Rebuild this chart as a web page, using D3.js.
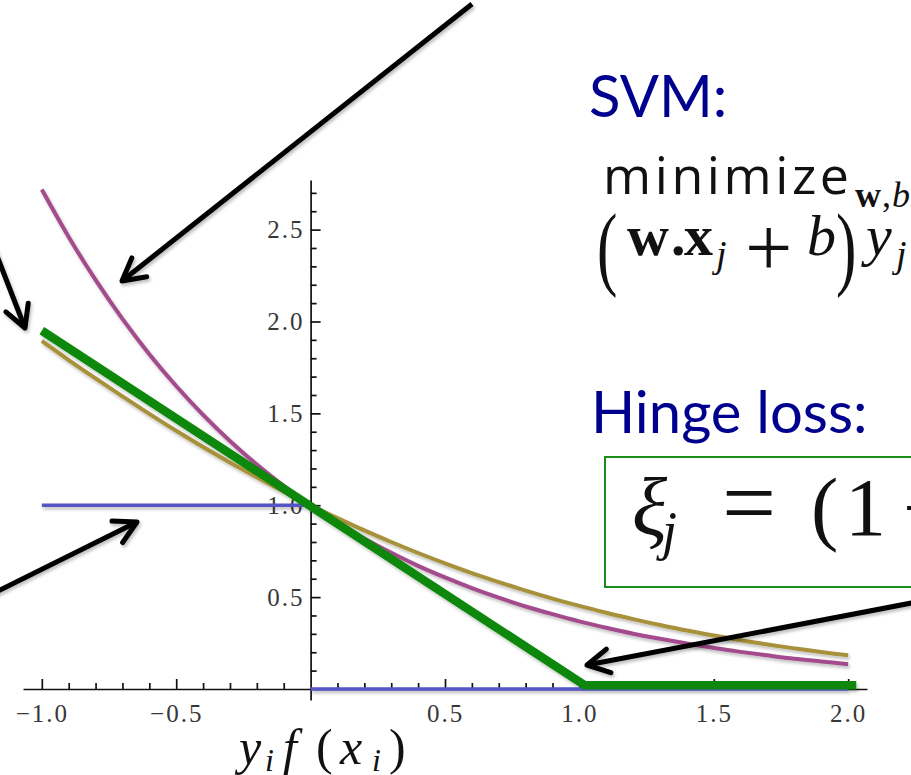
<!DOCTYPE html>
<html>
<head>
<meta charset="utf-8">
<script src="https://cdn.jsdelivr.net/npm/d3@7/dist/d3.min.js"></script>
<style>
  body { margin: 0; background: #fff; }
  svg { display: block; }
</style>
</head>
<body>
<div id="chart"></div>
<script>
// values
var xs = [-1.0, -0.9, -0.8, -0.7, -0.6, -0.5, -0.4, -0.3, -0.2, -0.1, 0.0,
           0.1,  0.2,  0.3,  0.4,  0.5,  0.6,  0.7,  0.8,  0.9,  1.0,
           1.1,  1.2,  1.3,  1.4,  1.5,  1.6,  1.7,  1.8,  1.9,  2.0];
// purple curve (exponential loss)
var expLoss = [2.718, 2.460, 2.226, 2.014, 1.822, 1.649, 1.492, 1.350, 1.221, 1.105, 1.000,
               0.905, 0.819, 0.741, 0.670, 0.607, 0.549, 0.497, 0.449, 0.407, 0.368,
               0.333, 0.301, 0.273, 0.247, 0.223, 0.202, 0.183, 0.165, 0.150, 0.135];
// olive curve (logistic loss)
var logLoss = [1.894, 1.790, 1.690, 1.592, 1.497, 1.405, 1.317, 1.233, 1.152, 1.074, 1.000,
               0.930, 0.863, 0.800, 0.740, 0.684, 0.631, 0.582, 0.535, 0.492, 0.452,
               0.415, 0.380, 0.348, 0.318, 0.291, 0.265, 0.242, 0.221, 0.201, 0.183];
// blue 0/1 loss (null = break)
var zeroOneX = [-1.0, 0.0, 0.0, 0.0, 2.0];
var zeroOneY = [1.0, 1.0, null, 0.0, 0.0];
// green hinge loss
var hingeX = [-1.0, 1.02, 2.03];
var hingeY = [1.95, 0.02, 0.02];

var xTickValues = [-1.0, -0.5, 0.5, 1.0, 1.5, 2.0];
var xTickLabels = ["\u22121.0", "\u22120.5", "0.5", "1.0", "1.5", "2.0"];
var yTickValues = [0.5, 1.0, 1.5, 2.0, 2.5];
var yTickLabels = ["0.5", "1.0", "1.5", "2.0", "2.5"];

var width = 911, height = 775;

var svg = d3.select("#chart").append("svg")
  .attr("width", width)
  .attr("height", height);

svg.append("rect").attr("width", width).attr("height", height).attr("fill", "#fff");

var defs = svg.append("defs");
var shadow = defs.append("filter").attr("id", "shadow")
  .attr("x", "-20%").attr("y", "-20%").attr("width", "140%").attr("height", "140%");
shadow.append("feDropShadow")
  .attr("dx", 1.5).attr("dy", 2.5).attr("stdDeviation", 1.5)
  .attr("flood-color", "#000").attr("flood-opacity", 0.25);

defs.append("marker")
  .attr("id", "head")
  .attr("markerUnits", "userSpaceOnUse")
  .attr("viewBox", "-32 -18 36 36")
  .attr("refX", 0).attr("refY", 0)
  .attr("markerWidth", 36).attr("markerHeight", 36)
  .attr("orient", "auto")
  .append("path")
  .attr("d", "M-22,-12L0,0L-22,12")
  .attr("fill", "none")
  .attr("stroke", "#000")
  .attr("stroke-width", 5)
  .attr("stroke-linecap", "round")
  .attr("stroke-linejoin", "round");

// scales
var x = d3.scaleLinear().domain([-1.07, 2.07]).range([23, 867]);
var y = d3.scaleLinear().domain([-0.06, 2.77]).range([700, 180]);

// axes
var xMinor = d3.range(-10, 21).map(function(k) { return k / 10; })
  .filter(function(v) { return v !== 0 && Math.abs(v * 2 - Math.round(v * 2)) > 1e-9; });
var yMinor = d3.range(1, 28).map(function(k) { return k / 10; })
  .filter(function(v) { return Math.abs(v * 2 - Math.round(v * 2)) > 1e-9; });

var axes = svg.append("g").attr("class", "axes");

axes.append("g")
  .attr("transform", "translate(0," + y(0) + ")")
  .call(d3.axisBottom(x).tickValues(xMinor).tickSizeInner(-6).tickSizeOuter(0).tickFormat(""))
  .call(function(g) { g.select(".domain").remove(); });

axes.append("g")
  .attr("transform", "translate(" + x(0) + ",0)")
  .call(d3.axisLeft(y).tickValues(yMinor).tickSizeInner(-6).tickSizeOuter(0).tickFormat(""))
  .call(function(g) { g.select(".domain").remove(); });

axes.append("g")
  .attr("transform", "translate(0," + y(0) + ")")
  .call(d3.axisBottom(x).tickValues(xTickValues).tickSizeInner(-10).tickSizeOuter(0)
        .tickPadding(15).tickFormat(function(d, i) { return xTickLabels[i]; }));

axes.append("g")
  .attr("transform", "translate(" + x(0) + ",0)")
  .call(d3.axisLeft(y).tickValues(yTickValues).tickSizeInner(-10).tickSizeOuter(0)
        .tickPadding(6).tickFormat(function(d, i) { return yTickLabels[i]; }));

axes.selectAll("line, path").attr("stroke", "#111").attr("stroke-width", 1.7);
axes.selectAll("text")
  .attr("font-family", "'Liberation Serif', 'Times New Roman', serif")
  .attr("font-size", 25)
  .attr("letter-spacing", "2px")
  .attr("fill", "#383838");

// curves
var line = d3.line()
  .defined(function(d) { return d[1] != null; })
  .x(function(d) { return x(d[0]); })
  .y(function(d) { return y(d[1]); });

var smooth = d3.line()
  .curve(d3.curveCatmullRom)
  .x(function(d) { return x(d[0]); })
  .y(function(d) { return y(d[1]); });

var curves = svg.append("g").attr("filter", "url(#shadow)");

curves.append("path")
  .datum(d3.zip(zeroOneX, zeroOneY))
  .attr("d", line)
  .attr("fill", "none")
  .attr("stroke", "#5555c6")
  .attr("stroke-width", 3.5);

curves.append("path")
  .datum(d3.zip(xs, expLoss))
  .attr("d", smooth)
  .attr("fill", "none")
  .attr("stroke", "#a34c8c")
  .attr("stroke-width", 4);

curves.append("path")
  .datum(d3.zip(xs, logLoss))
  .attr("d", smooth)
  .attr("fill", "none")
  .attr("stroke", "#a8913a")
  .attr("stroke-width", 4);

curves.append("path")
  .datum(d3.zip(hingeX, hingeY))
  .attr("d", line)
  .attr("fill", "none")
  .attr("stroke", "#078807")
  .attr("stroke-width", 8.5)
  .attr("stroke-linejoin", "miter");

// arrows
var arrows = [
  [[472, 4], [122, 281]],
  [[-8, 243], [25, 328]],
  [[-10, 595], [137, 522]],
  [[922, 601], [587, 665]]
];
svg.append("g").attr("filter", "url(#shadow)")
  .selectAll("line")
  .data(arrows)
  .enter().append("line")
  .attr("x1", function(d) { return d[0][0]; })
  .attr("y1", function(d) { return d[0][1]; })
  .attr("x2", function(d) { return d[1][0]; })
  .attr("y2", function(d) { return d[1][1]; })
  .attr("stroke", "#000")
  .attr("stroke-width", 5)
  .attr("marker-end", "url(#head)");

// x label  y_i f(x_i)
var serif = "'Liberation Serif', 'Times New Roman', serif";
var xl = svg.append("text")
  .attr("font-family", serif)
  .attr("font-size", 50)
  .attr("fill", "#111");
xl.append("tspan").attr("x", 239).attr("y", 764).attr("font-style", "italic").text("y");
xl.append("tspan").attr("x", 265).attr("y", 771).attr("font-size", 32).attr("font-style", "italic").text("i");
xl.append("tspan").attr("x", 283).attr("y", 764).attr("font-style", "italic").text("f");
xl.append("tspan").attr("x", 316).attr("y", 764).text("(");
xl.append("tspan").attr("x", 340).attr("y", 764).attr("font-style", "italic").text("x");
xl.append("tspan").attr("x", 372).attr("y", 771).attr("font-size", 32).attr("font-style", "italic").text("i");
xl.append("tspan").attr("x", 389).attr("y", 764).text(")");

// right-hand text
var navy = "#00008f";
var sans = "Lato, 'Open Sans', sans-serif";
svg.append("text")
  .attr("x", 589).attr("y", 117)
  .attr("font-family", sans).attr("font-size", 58)
  .attr("fill", navy)
  .text("SVM:");

svg.append("text")
  .attr("x", 603).attr("y", 194)
  .attr("font-family", "'Open Sans', sans-serif").attr("font-size", 52)
  .attr("textLength", 246).attr("lengthAdjust", "spacing")
  .attr("fill", "#111")
  .text("minimize");

var sub = svg.append("text").attr("font-family", serif).attr("font-size", 36).attr("fill", "#111");
sub.append("tspan").attr("x", 855).attr("y", 207).attr("font-weight", "bold").text("w");
sub.append("tspan").attr("x", 882).attr("y", 207).text(",");
sub.append("tspan").attr("x", 892).attr("y", 207).attr("font-style", "italic").text("b");

// (w.x_j + b) y_j
svg.append("text")
  .attr("transform", "translate(597,278) scale(0.85,1.3)")
  .attr("font-family", serif).attr("font-size", 72).attr("fill", "#111")
  .text("(");
svg.append("text")
  .attr("transform", "translate(836,278) scale(0.85,1.3)")
  .attr("font-family", serif).attr("font-size", 72).attr("fill", "#111")
  .text(")");

var l2 = svg.append("text").attr("font-family", serif).attr("font-size", 58).attr("fill", "#111");
l2.append("tspan").attr("x", 627).attr("y", 255).attr("font-weight", "bold").text("w");
l2.append("tspan").attr("x", 671).attr("y", 255).attr("font-weight", "bold").text(".");
l2.append("tspan").attr("x", 684).attr("y", 255).attr("font-weight", "bold").text("x");
l2.append("tspan").attr("x", 716).attr("y", 267).attr("font-size", 38).attr("font-style", "italic").text("j");
l2.append("tspan").attr("x", 745).attr("y", 276).attr("font-size", 84).text("+");
l2.append("tspan").attr("x", 807).attr("y", 255).attr("font-style", "italic").text("b");
l2.append("tspan").attr("x", 866).attr("y", 255).attr("font-style", "italic").text("y");
l2.append("tspan").attr("x", 896).attr("y", 267).attr("font-size", 38).attr("font-style", "italic").text("j");

svg.append("text")
  .attr("x", 591).attr("y", 433)
  .attr("font-family", sans).attr("font-size", 58)
  .attr("fill", navy)
  .text("Hinge loss:");

svg.append("rect")
  .attr("x", 605).attr("y", 457)
  .attr("width", 400).attr("height", 130)
  .attr("fill", "none")
  .attr("stroke", "#1c8c1c")
  .attr("stroke-width", 2);

var f = svg.append("text").attr("font-family", serif).attr("font-size", 82).attr("fill", "#111");
f.append("tspan").attr("x", 632).attr("y", 535).attr("font-style", "italic").text("\u03be");
f.append("tspan").attr("x", 662).attr("y", 549).attr("font-size", 54).attr("font-style", "italic").text("j");
f.append("tspan").attr("x", 722).attr("y", 535).attr("font-size", 96).text("=");
f.append("tspan").attr("x", 811).attr("y", 535).text("(");
f.append("tspan").attr("x", 845).attr("y", 535).text("1");
f.append("tspan").attr("x", 903).attr("y", 535).text("\u2212");
</script>
</body>
</html>
